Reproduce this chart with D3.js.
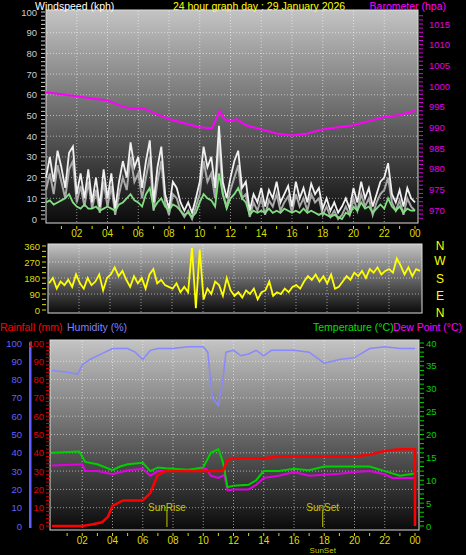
<!DOCTYPE html><html><head><meta charset="utf-8">
<script src="https://cdn.jsdelivr.net/npm/d3@7"></script>
<style>body{margin:0;background:#000}svg{display:block}text{font-family:"Liberation Sans",Arial,sans-serif}</style></head><body>
<svg id="c" width="466" height="555"></svg>
<script>
const hourTicks=[2,4,6,8,10,12,14,16,18,20,22,24];
const hourLabels=["02","04","06","08","10","12","14","16","18","20","22","00"];
// wind, 15-minute samples from 00:00 to 24:00
const gust=[20,30,18,33, 25,15,32,35, 12,22,10,24, 8,20,6,24, 10,22,5,18, 28,20,37,25, 30,15,28,38, 8,25,35,12, 5,18,15,8, 4,8,3,10, 18,35,25,30, 15,45,18,10, 20,28,33,15, 18,4,12,8, 15,6,14,10, 18,8,12,16, 6,18,10,15, 8,17,12,15, 5,10,4,8, 3,6,10,5, 15,8,18,10, 15,6,12,18, 20,27,12,8, 14,6,15,10, 8];
const speed=[14,22,12,26, 18,10,24,28, 8,16,6,18, 5,14,3,18, 6,16,2,12, 20,14,30,18, 22,10,20,30, 4,18,28,8, 2,12,10,4, 1,4,0,6, 12,28,18,22, 10,38,12,6, 14,20,26,10, 12,1,8,4, 10,2,9,6, 12,4,8,11, 3,12,6,10, 4,12,8,10, 2,6,1,4, 0,2,6,2, 10,4,12,6, 10,2,8,12, 14,20,8,4, 9,2,10,6, 4];
const avg=[8,9,7,8, 9,10,12,8, 6,5,7,5, 5,6,4,5, 6,5,4,7, 8,10,12,9, 8,6,12,15, 5,8,10,6, 4,7,6,4, 2,3,1,3, 8,12,10,9, 6,22,12,5, 10,12,15,10, 8,2,4,3, 4,3,5,3, 4,3,5,4, 3,4,3,5, 3,4,3,2, 3,2,1,2, 1,0,3,2, 6,4,8,5, 6,3,5,7, 5,10,6,4, 6,3,5,4, 4];
const dir=[150,180,120,160, 140,170,130,200, 150,120,180,140, 160,200,110,180, 200,240,190,220, 170,130,190,150, 180,120,200,230, 150,170,140,130, 120,150,100,130, 100,350,10,340, 60,120,90,160, 140,80,180,110, 80,100,70,110, 90,120,60,100, 110,160,80,100, 90,120,100,130, 140,120,160,190, 170,200,160,190, 150,200,120,130, 160,190,170,210, 190,220,180,230, 210,240,200,220, 230,210,290,250, 200,240,190,230, 220];
const baroT=[0,1,2,3,4,5,5.6,6.3,7,8,9,10,10.8,11.3,11.6,12,12.4,13,14,15,16,17,18,19,20,21,22,23,24];
const baroV=[998.5,998,997.5,997,996.5,995,994.5,994.7,993.5,992,991,990,989.8,994,992,991.5,992,990.5,989.5,988.5,988,988.5,989.5,990,990.5,991.5,992.5,993,994];
const humT=[0,1,1.7,2,2.5,3,4,5,5.5,6,6.5,7,8,9,10,10.3,10.6,11,11.3,11.5,12,12.5,13,13.5,14,14.5,16,17,18,19,20,21,22,23,24];
const humV=[85,84,83,88,91,93,97,97,95,91,96,97,97,98,98,95,70,66,80,95,96,93,94,96,93,96,96,95,89,91,92,97,98,97,97];
const tempT=[0,1.8,2.2,3,4,4.5,5,6,6.5,7,7.5,8,9,10,10.5,11,11.3,11.6,12,13,13.5,14,15,16,17,18,19,20,21,22,23,24];
const tempV=[16,16.3,14,13.5,12.2,13,13.5,13.8,12,12.8,12.6,12.5,12.3,12.8,16,16.8,14,8.5,8.8,9,10,12,12,12.5,12.2,13,13,13,13,12,11,11.5];
const dewT=[0,2,2.2,3,4,5,6,6.5,7,8,9,10.2,10.5,11,11.4,11.6,12,13,13.5,14,15,16,17,18,19,20,21,22,22.5,23,24];
const dewV=[13.2,13.5,12,12,11.3,12.2,12.5,11,12,12.2,12.2,12.5,11,10.5,11.2,7.8,8,8,9,10.5,11,11.8,11,11.2,11.4,11.8,12,11.3,10.5,10.5,10.5];
const rainT=[0,2,2.7,3.3,3.7,4,4.7,5,6,6.5,7,7.5,8,11.3,11.6,12,14,15,20,21,22,23,24,24];
const rainV=[0,0,1,2,5,11,14,14,14,18,28,30,30,30,36,37,37,38,38,39,41,42,42,0];
const sunRise=7.6, sunSet=17.9;
const svg=d3.select("#c");
const defs=svg.append("defs");
const g=defs.append("linearGradient").attr("id","bg").attr("x1",0).attr("x2",0).attr("y1",0).attr("y2",1);
g.append("stop").attr("offset","0%").attr("stop-color","#c4c4c4");
g.append("stop").attr("offset","100%").attr("stop-color","#0a0a0a");
function panel(x0,x1,y0,y1){
  svg.append("rect").attr("x",x0).attr("y",y0).attr("width",x1-x0).attr("height",y1-y0).attr("fill","url(#bg)").attr("stroke","#ddd").attr("stroke-width",1);
}
function vgrid(x,y0,y1){
  svg.append("g").selectAll("line").data(hourTicks.slice(0,-1)).join("line").attr("x1",d=>x(d)).attr("x2",d=>x(d)).attr("y1",y0).attr("y2",y1).attr("stroke","#fff").attr("stroke-opacity",0.55).attr("stroke-dasharray","1,2");
}
function hgrid(y,ticks,x0,x1){
  svg.append("g").selectAll("line").data(ticks).join("line").attr("x1",x0).attr("x2",x1).attr("y1",d=>y(d)).attr("y2",d=>y(d)).attr("stroke","#fff").attr("stroke-opacity",0.55).attr("stroke-dasharray","1,2");
}
function xlabels(x,y){
  svg.append("g").selectAll("text").data(hourTicks).join("text").attr("x",d=>x(d)).attr("y",y).attr("text-anchor","middle").attr("font-size",10).attr("fill","#dede00").text((d,i)=>hourLabels[i]);
  svg.append("g").selectAll("line").data(d3.range(1,25)).join("line").attr("x1",d=>x(d)).attr("x2",d=>x(d)).attr("y1",y-11).attr("y2",y-8).attr("stroke","#dede00");
}
function yaxis(y,ticks,xl,col,anchor,minor,xt){
  svg.append("g").selectAll("text").data(ticks).join("text").attr("x",xl).attr("y",d=>y(d)+3.5).attr("text-anchor",anchor).attr("font-size",9.5).attr("fill",col).text(d=>d);
  svg.append("g").selectAll("line").data(minor).join("line").attr("x1",xt).attr("x2",xt+4).attr("y1",d=>y(d)).attr("y2",d=>y(d)).attr("stroke",col).attr("stroke-width",1);
}
// ---- top panel
const x1=d3.scaleLinear().domain([0,24]).range([46,415]);
const yW=d3.scaleLinear().domain([0,100]).range([219,12]);
const yB=d3.scaleLinear().domain([970,1015]).range([210,24]);
panel(46,418,10,223);
vgrid(x1,11,222);hgrid(yW,d3.range(10,100,10),47,417);
yaxis(yW,d3.range(0,101,10),37,"#ccc","end",d3.range(0,101,2),41);
yaxis(yB,d3.range(970,1016,5),429,"#e000e0","start",d3.range(968,1018,1),419);
xlabels(x1,237);
const t15=gust.map((d,i)=>i*0.25);
const ln=(x,y)=>d3.line().x(d=>x(d[0])).y(d=>y(d[1]));
svg.append("path").attr("d",ln(x1,yW)(t15.map((t,i)=>[t,speed[i]]))).attr("fill","none").attr("stroke","#a8a8a8").attr("stroke-width",2);
svg.append("path").attr("d",ln(x1,yW)(t15.map((t,i)=>[t,gust[i]]))).attr("fill","none").attr("stroke","#f0f0f0").attr("stroke-width",1.8);
svg.append("path").attr("d",ln(x1,yW)(t15.map((t,i)=>[t,avg[i]]))).attr("fill","none").attr("stroke","#80e080").attr("stroke-width",1.8);
svg.append("path").attr("d",ln(x1,yB)(baroT.map((t,i)=>[t,baroV[i]]))).attr("fill","none").attr("stroke","#ff00ff").attr("stroke-width",2);
svg.append("text").attr("x",35).attr("y",10).attr("font-size",10.5).attr("fill","#fff").text("Windspeed (kph)");
svg.append("text").attr("x",259).attr("y",10).attr("text-anchor","middle").attr("font-size",10.5).attr("fill","#ffff00").text("24 hour graph day : 29 January 2026");
svg.append("text").attr("x",446).attr("y",10).attr("text-anchor","end").attr("font-size",10.5).attr("fill","#ff00ff").text("Barometer (hpa)");
// ---- direction panel
const yD=d3.scaleLinear().domain([0,360]).range([310,246]);
panel(48,422,244,313);
vgrid(d3.scaleLinear().domain([0,24]).range([48,420]),245,312);hgrid(yD,[90,180,270],49,421);
yaxis(yD,[0,90,180,270,360],40,"#dede00","end",d3.range(0,361,30),42);
const x2=d3.scaleLinear().domain([0,24]).range([49,420]);
svg.append("path").attr("d",ln(x2,yD)(t15.map((t,i)=>[t,dir[i]]))).attr("fill","none").attr("stroke","#ffff00").attr("stroke-width",1.8);
svg.append("g").selectAll("text").data(["N","W","S","E","N"]).join("text").attr("x",440).attr("y",(d,i)=>[250,265,283,300,317][i]).attr("text-anchor","middle").attr("font-size",12).attr("fill","#ffff00").text(d=>d);
// ---- bottom panel
const x3=d3.scaleLinear().domain([0,24]).range([52,415]);
const yH=d3.scaleLinear().domain([0,100]).range([526,343]);
const yT=d3.scaleLinear().domain([0,40]).range([526,343]);
panel(50,419,340,530);
vgrid(x3,341,529);hgrid(yH,d3.range(10,100,10),51,418);
svg.append("text").attr("x",0).attr("y",331).attr("font-size",10.5).attr("fill","#ff0000").text("Rainfall (mm)");
svg.append("text").attr("x",67).attr("y",331).attr("font-size",10.5).attr("fill","#8080ff").text("Humidity (%)");
svg.append("text").attr("x",313).attr("y",331).attr("font-size",10.5).attr("fill","#00e000").text("Temperature (°C)");
svg.append("text").attr("x",393).attr("y",331).attr("font-size",10.5).attr("textLength",69).attr("lengthAdjust","spacingAndGlyphs").attr("fill","#ff00ff").text("Dew Point (°C)");
svg.append("rect").attr("x",29).attr("y",342).attr("width",2.5).attr("height",186).attr("fill","#6060ff");
yaxis(yH,d3.range(0,101,10),22,"#6060ff","end",[],0);
yaxis(yH,d3.range(0,101,10),44,"#e00000","end",d3.range(0,101,2),46);
yaxis(yT,d3.range(0,41,5),426,"#00d000","start",d3.range(0,41,1),420);
xlabels(x3,544);
[[sunRise,"SunRise"],[sunSet,"SunSet"]].forEach(([t,l])=>{
  svg.append("line").attr("x1",x3(t)).attr("x2",x3(t)).attr("y1",510).attr("y2",527).attr("stroke","#c8c800");
  svg.append("text").attr("x",x3(t)).attr("y",511).attr("text-anchor","middle").attr("font-size",10).attr("fill","#c8c800").text(l);
});
svg.append("text").attr("x",x3(sunSet)).attr("y",553).attr("text-anchor","middle").attr("font-size",8).attr("fill","#c8c800").text("SunSet");
svg.append("path").attr("d",ln(x3,yH)(humT.map((t,i)=>[t,humV[i]]))).attr("fill","none").attr("stroke","#8888ff").attr("stroke-width",1.5);
svg.append("path").attr("d",ln(x3,yT)(dewT.map((t,i)=>[t,dewV[i]]))).attr("fill","none").attr("stroke","#e000e0").attr("stroke-width",2);
svg.append("path").attr("d",ln(x3,yT)(tempT.map((t,i)=>[t,tempV[i]]))).attr("fill","none").attr("stroke","#00d000").attr("stroke-width",2);
svg.append("path").attr("d",ln(x3,yH)(rainT.map((t,i)=>[t,rainV[i]]))).attr("fill","none").attr("stroke","#ff0000").attr("stroke-width",2.5);
</script></body></html>
